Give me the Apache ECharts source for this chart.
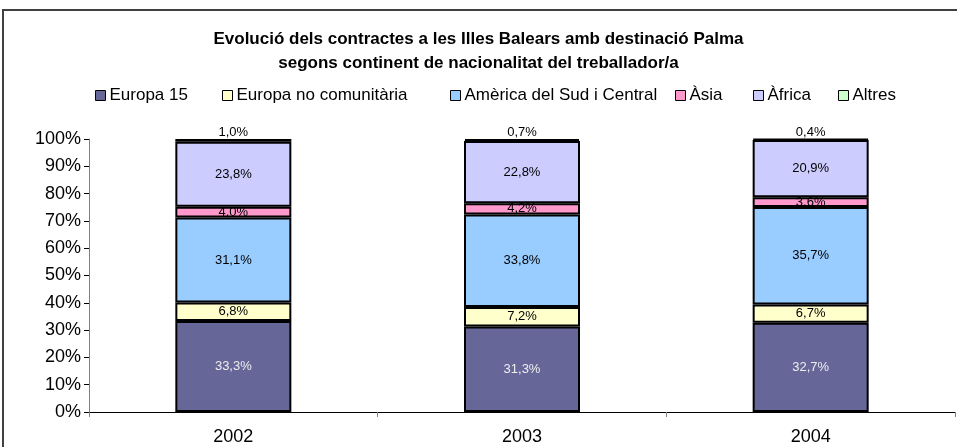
<!DOCTYPE html>
<html>
<head>
<meta charset="utf-8">
<script src="https://cdn.jsdelivr.net/npm/echarts@6/dist/echarts.min.js"></script>
<style>
html, body { margin: 0; padding: 0; background: #fff; }
#chart { width: 957px; height: 447px; }
</style>
</head>
<body>
<div id="chart"></div>
<script>
var years = ['2002', '2003', '2004'];
var europa15 = [33.3, 31.3, 32.7];
var europaNoCom = [6.8, 7.2, 6.7];
var america = [31.1, 33.8, 35.7];
var asia = [4.0, 4.2, 3.6];
var africa = [23.8, 22.8, 20.9];
var altres = [1.0, 0.7, 0.4];
var yTicks = [0, 10, 20, 30, 40, 50, 60, 70, 80, 90, 100];

var names = ['Europa 15', 'Europa no comunitària', 'Amèrica del Sud i Central', 'Àsia', 'Àfrica', 'Altres'];
var colors = ['#666699', '#FFFFCC', '#99CCFF', '#FF99CC', '#CCCCFF', '#CCFFCC'];
var values = [europa15, europaNoCom, america, asia, africa, altres];
var legendX = [95, 222, 450, 675, 753, 838];

var font = 'Liberation Sans, Arial, sans-serif';

function fmt(p) {
    return p.value.toFixed(1).replace('.', ',') + '%';
}

var series = names.map(function (n, i) {
    return {
        name: n,
        type: 'bar',
        stack: 'total',
        barWidth: 116,
        data: values[i],
        itemStyle: { color: colors[i], borderColor: '#000', borderWidth: 2 },
        label: {
            show: true,
            position: i == 5 ? 'top' : 'inside',
            distance: 0,
            formatter: fmt,
            fontFamily: font,
            fontSize: 13,
            color: i == 0 ? '#eeeeee' : '#000'
        }
    };
});

var legends = names.map(function (n, i) {
    return {
        data: [n],
        left: legendX[i],
        top: 87,
        padding: 0,
        icon: 'rect',
        itemWidth: 10,
        itemHeight: 10,
        selectedMode: false,
        itemStyle: { borderColor: '#000', borderWidth: 1 },
        textStyle: { fontFamily: font, fontSize: 17, color: '#000', padding: [0, 0, 0, -1] }
    };
});

var chart = echarts.init(document.getElementById('chart'));
chart.setOption({
    animation: false,
    title: {
        text: 'Evolució dels contractes a les Illes Balears amb destinació Palma\nsegons continent de nacionalitat del treballador/a',
        left: 'center',
        top: 22,
        textStyle: { fontFamily: font, fontSize: 17, fontWeight: 'bold', color: '#000', lineHeight: 24 }
    },
    legend: legends,
    graphic: [{
        type: 'rect',
        shape: { x: 3, y: 10, width: 960, height: 450 },
        style: { fill: 'none', stroke: '#404040', lineWidth: 2 },
        silent: true
    }],
    grid: { left: 89, right: 2, top: 139, bottom: 35 },
    xAxis: {
        type: 'category',
        data: years,
        axisLine: { lineStyle: { color: '#000', width: 1 } },
        axisTick: { show: true, length: 5, lineStyle: { color: '#808080' } },
        axisLabel: { fontFamily: font, fontSize: 18, color: '#000', margin: 16 }
    },
    yAxis: {
        type: 'value',
        min: yTicks[0],
        max: yTicks[yTicks.length - 1],
        interval: 10,
        splitLine: { show: false },
        axisLine: { show: true, lineStyle: { color: '#808080', width: 1 } },
        axisTick: { show: true, length: 5, lineStyle: { color: '#000' } },
        axisLabel: { fontFamily: font, fontSize: 18, color: '#000', margin: 8, formatter: '{value}%' }
    },
    series: series
});
</script>
</body>
</html>
